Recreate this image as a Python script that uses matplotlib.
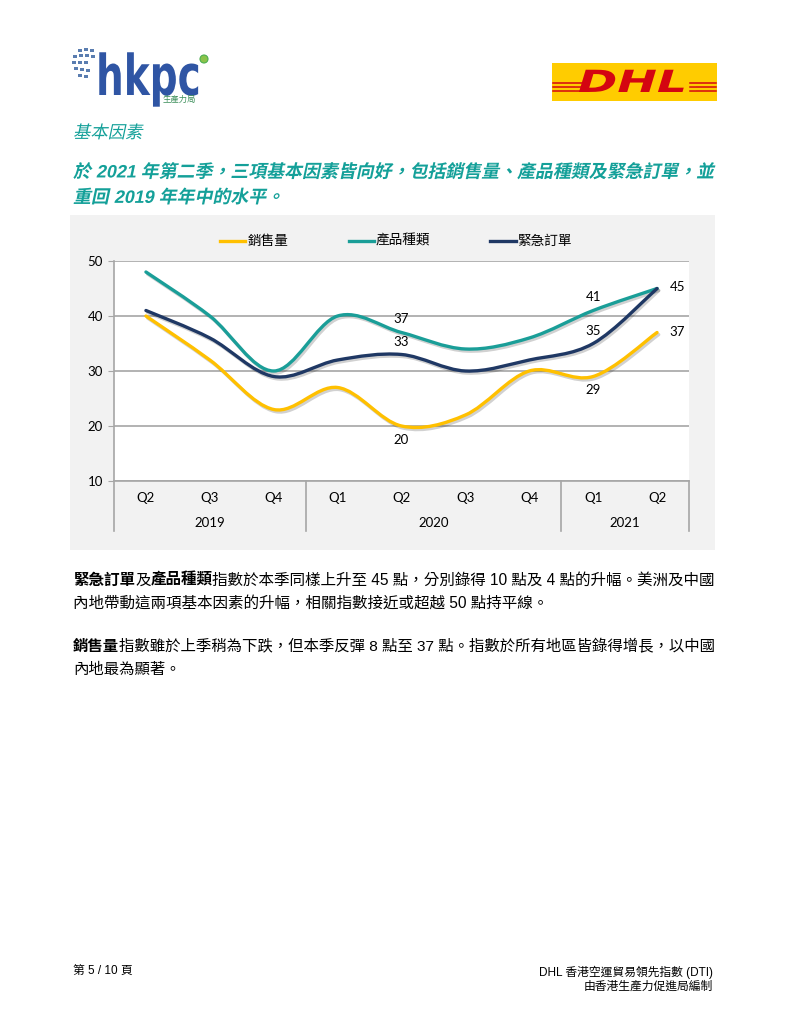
import matplotlib
matplotlib.use("Agg")
import matplotlib.pyplot as plt
from matplotlib.path import Path
from matplotlib.patches import PathPatch, Rectangle, Ellipse
from matplotlib.lines import Line2D
from matplotlib.transforms import Affine2D
import matplotlib.patheffects as pe

W, H = 791, 1024
CJK = ["Liberation Sans", "Noto Sans CJK TC"]
CHART_FONT = ["Lato", "Noto Sans CJK TC"]

quarters = ["Q2", "Q3", "Q4", "Q1", "Q2", "Q3", "Q4", "Q1", "Q2"]
years = ["2019", "2020", "2021"]
year_spans = [(0, 2), (3, 6), (7, 8)]
series_names = ["銷售量", "產品種類", "緊急訂單"]
sales = [40, 32, 23, 27, 20, 22, 30, 29, 37]
variety = [48, 40, 30, 40, 37, 34, 36, 41, 45]
urgent = [41, 36, 29, 32, 33, 30, 32, 35, 45]
colors = ["#FFC000", "#1A9E98", "#1F3864"]
teal = "#14A099"


def fx(x):
    return x / W


def fy(y):
    return 1 - y / H


class Shape(pe.AbstractPathEffect):
    # slant / stretch the glyph outlines (fake italic, condensed logo type)
    def __init__(self, skew=0, sx=1.0, sy=1.0):
        super().__init__()
        self.skew, self.sx, self.sy = skew, sx, sy

    def draw_path(self, renderer, gc, tpath, affine, rgbFace=None):
        t = Affine2D().skew_deg(self.skew, 0).scale(self.sx, self.sy) + affine
        renderer.draw_path(gc, tpath, t, rgbFace)


def smooth_path(xs, ys):
    pts = list(zip(xs, ys))
    n = len(pts)
    verts = [pts[0]]
    codes = [Path.MOVETO]
    for i in range(n - 1):
        p0 = pts[i - 1] if i > 0 else pts[i]
        p1, p2 = pts[i], pts[i + 1]
        p3 = pts[i + 2] if i + 2 < n else pts[i + 1]
        c1 = (p1[0] + (p2[0] - p0[0]) / 6, p1[1] + (p2[1] - p0[1]) / 6)
        c2 = (p2[0] - (p3[0] - p1[0]) / 6, p2[1] - (p3[1] - p1[1]) / 6)
        verts += [c1, c2, p2]
        codes += [Path.CURVE4] * 3
    return Path(verts, codes)


fig = plt.figure(figsize=(W / 100, H / 100), dpi=100)
fig.patch.set_facecolor("white")
renderer = fig.canvas.get_renderer()


def runs(x, y, parts, size):
    # parts: list of (text, bold)
    for txt, bold in parts:
        t = fig.text(fx(x), fy(y), txt, family=CJK, fontsize=size,
                     fontweight="bold" if bold else "normal", va="center", ha="left")
        x += t.get_window_extent(renderer).width


# hkpc logo
dots = [(78, 49), (84, 48), (90, 49), (73, 55), (79, 54), (85, 54), (91, 55),
        (72, 61), (78, 61), (84, 61), (74, 67), (80, 68), (86, 69), (78, 74), (84, 75)]
for dx, dy in dots:
    fig.add_artist(Rectangle((fx(dx), fy(dy + 3)), 4 / W, 3 / H,
                             transform=fig.transFigure, color="#5a7db0", lw=0))
fig.text(fx(96), fy(95), "hkpc", fontsize=27, fontweight="bold", color="#2F55A4",
         family="DejaVu Sans", va="baseline", ha="left",
         path_effects=[Shape(sx=1.04, sy=1.5)])
fig.add_artist(Ellipse((fx(204), fy(59)), 8 / W, 8 / H, transform=fig.transFigure,
                       facecolor="#8BC34A", edgecolor="#4CAF50", lw=0.8))
fig.text(fx(163), fy(100), "生產力局", fontsize=6.0, color="#3c8f5a",
         family=CJK, va="center", ha="left")

# DHL logo
fig.add_artist(Rectangle((fx(552), fy(101)), 165 / W, 38 / H,
                         transform=fig.transFigure, color="#FFCC00", lw=0))
for sy in (83, 87, 91):
    fig.add_artist(Line2D([fx(553), fx(583)], [fy(sy)] * 2, color="#D40511", lw=1.1))
    fig.add_artist(Line2D([fx(690), fx(716)], [fy(sy)] * 2, color="#D40511", lw=1.1))
fig.text(fx(578), fy(92), "DHL", fontsize=22, fontweight="bold", style="italic",
         color="#D40511", family="DejaVu Sans", va="baseline", ha="left",
         path_effects=[Shape(sx=1.55)])
for sy in (85, 89):
    fig.add_artist(Line2D([fx(575), fx(695)], [fy(sy)] * 2, color="#FFCC00", lw=0.8))

# headings
fig.text(fx(73), fy(133), "基本因素", family=CJK, fontsize=12.5, color=teal,
         va="center", ha="left", path_effects=[Shape(skew=12)])
fig.text(fx(73), fy(172), "於 2021 年第二季，三項基本因素皆向好，包括銷售量、產品種類及緊急訂單，並",
         family=CJK, fontsize=12.9, fontweight="bold", color=teal, va="center", ha="left",
         path_effects=[Shape(skew=12)])
fig.text(fx(73), fy(198), "重回 2019 年年中的水平。",
         family=CJK, fontsize=12.9, fontweight="bold", color=teal, va="center", ha="left",
         path_effects=[Shape(skew=12)])

# chart background
fig.add_artist(Rectangle((fx(70), fy(550)), 645 / W, 335 / H,
                         transform=fig.transFigure, color="#F2F2F2", lw=0, zorder=0))

ax = fig.add_axes([fx(114), fy(481), (689 - 114) / W, (481 - 261) / H])
ax.set_facecolor("white")
ax.set_xlim(-0.5, len(quarters) - 0.5)
ax.set_ylim(10, 50)
ax.set_yticks([10, 20, 30, 40, 50])
ax.tick_params(axis="y", length=4, color="#A6A6A6", labelsize=9.5, pad=4)
for lab in ax.get_yticklabels():
    lab.set_family(CHART_FONT)
ax.set_xticks([])
for s in ("top", "right"):
    ax.spines[s].set_visible(False)
for s in ("left", "bottom"):
    ax.spines[s].set_color("#A6A6A6")
    ax.spines[s].set_linewidth(1.2)
ax.grid(axis="y", color="#A6A6A6", lw=1.2)
ax.set_axisbelow(True)

xs = list(range(len(quarters)))
for vals, c in zip([sales, variety, urgent], colors):
    patch = PathPatch(smooth_path(xs, vals), fill=False, edgecolor=c, lw=2.4,
                      capstyle="round", joinstyle="round", zorder=3,
                      path_effects=[pe.SimpleLineShadow(offset=(1.2, -1.5), alpha=0.18),
                                    pe.Normal()])
    ax.add_patch(patch)

# category axis
xt = ax.get_xaxis_transform()
for i, q in enumerate(quarters):
    ax.text(i, -0.078, q, transform=xt, ha="center", va="center",
            fontsize=9.5, family=CHART_FONT)
for yr, (a, b) in zip(years, year_spans):
    ax.text((a + b) / 2, -0.19, yr, transform=xt, ha="center", va="center",
            fontsize=9.5, family=CHART_FONT)
    ax.plot([b + 0.5, b + 0.5], [0, -0.227], transform=xt, color="#A6A6A6",
            lw=1.2, clip_on=False)
ax.plot([-0.5, -0.5], [0, -0.227], transform=xt, color="#A6A6A6", lw=1.2, clip_on=False)

# data labels
labels = [(8, variety[8], (9, 1), "left"), (8, sales[8], (9, 0), "left"),
          (7, variety[7], (0, 10), "center"), (7, urgent[7], (0, 9), "center"),
          (7, sales[7], (0, -10), "center"), (4, variety[4], (0, 10), "center"),
          (4, urgent[4], (0, 9), "center"), (4, sales[4], (0, -10), "center")]
for xi, v, off, ha in labels:
    ax.annotate(f"{v}", (xi, v), xytext=off, textcoords="offset points",
                ha=ha, va="center", fontsize=9.5, family=CHART_FONT)

# legend
lx = [(220, 245, 248), (349, 374, 376), (490, 516, 517)]
for (a, b, t), name, c in zip(lx, series_names, colors):
    fig.add_artist(Line2D([fx(a), fx(b)], [fy(241)] * 2, color=c, lw=2.4))
    fig.text(fx(t), fy(241), name, family=CJK, fontsize=9.8, va="center", ha="left")

# body text
runs(73, 580, [("緊急訂單", True), ("及", False), ("產品種類", True),
               ("指數於本季同樣上升至 45 點，分別錄得 10 點及 4 點的升幅。美洲及中國", False)], 11.2)
runs(73, 603, [("內地帶動這兩項基本因素的升幅，相關指數接近或超越 50 點持平線。", False)], 11.2)
runs(73, 647, [("銷售量", True),
               ("指數雖於上季稍為下跌，但本季反彈 8 點至 37 點。指數於所有地區皆錄得增長，以中國", False)], 11.1)
runs(73, 670, [("內地最為顯著。", False)], 11.1)

# footer
fig.text(fx(73), fy(972), "第 5 / 10 頁", family=CJK, fontsize=8.5, va="center", ha="left")
fig.text(fx(713), fy(972), "DHL 香港空運貿易領先指數 (DTI)", family=CJK, fontsize=8.5,
         va="center", ha="right")
fig.text(fx(713), fy(987), "由香港生產力促進局編制", family=CJK, fontsize=8.5,
         va="center", ha="right")

fig.savefig("out.png", dpi=100)
